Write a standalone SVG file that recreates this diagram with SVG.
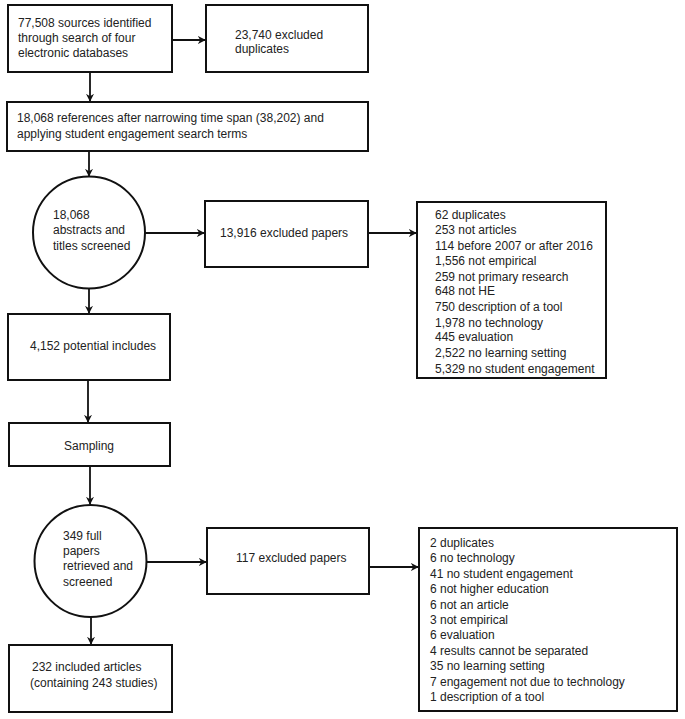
<svg xmlns="http://www.w3.org/2000/svg" width="685" height="719" viewBox="0 0 685 719">
<style>
.box{fill:#fff;stroke:#111;stroke-width:2}
.t{font-family:"Liberation Sans",Arial,sans-serif;font-size:12px;fill:#222}
.c{stroke:#111;stroke-width:1.8;fill:none;marker-end:url(#ah)}
</style>
<defs>
<marker id="ah" viewBox="0 0 10 10" refX="9" refY="5" markerWidth="8" markerHeight="8" orient="auto" markerUnits="userSpaceOnUse">
<path d="M0,0 L10,5 L0,10 L3,5 Z" fill="#111"/>
</marker>
</defs>
<rect width="685" height="719" fill="#fff"/>
<g id="connectors">
<line class="c" x1="172" y1="40" x2="205" y2="40"/>
<line class="c" x1="90" y1="72" x2="90" y2="101"/>
<line class="c" x1="89" y1="151" x2="89" y2="176"/>
<line class="c" x1="145" y1="233" x2="204" y2="233"/>
<line class="c" x1="368" y1="233" x2="416" y2="233"/>
<line class="c" x1="89" y1="288" x2="89" y2="313"/>
<line class="c" x1="88" y1="380" x2="88" y2="422"/>
<line class="c" x1="90" y1="466" x2="90" y2="504"/>
<line class="c" x1="146" y1="562" x2="206" y2="562"/>
<line class="c" x1="369" y1="567" x2="418" y2="567"/>
<line class="c" x1="91" y1="617" x2="91" y2="644"/>
</g>
<g id="n1"><rect class="box" x="8" y="5" width="164" height="67"/>
<text class="t" x="18" y="27">77,508 sources identified</text>
<text class="t" x="18" y="42">through search of four</text>
<text class="t" x="18" y="57">electronic databases</text></g>
<g id="n2"><rect class="box" x="206" y="5" width="162" height="67"/>
<text class="t" x="235" y="39">23,740 excluded</text>
<text class="t" x="235" y="53">duplicates</text></g>
<g id="n3"><rect class="box" x="7" y="102" width="361" height="49"/>
<text class="t" x="17" y="122">18,068 references after narrowing time span (38,202) and</text>
<text class="t" x="17" y="138">applying student engagement search terms</text></g>
<g id="n4"><circle class="box" cx="89" cy="232.5" r="56"/>
<text class="t" x="53" y="219">18,068</text>
<text class="t" x="53" y="234">abstracts and</text>
<text class="t" x="53" y="250">titles screened</text></g>
<g id="n5"><rect class="box" x="205" y="201" width="163" height="66"/>
<text class="t" x="220" y="237">13,916 excluded papers</text></g>
<g id="n6"><rect class="box" x="417" y="202" width="189" height="176"/>
<text class="t" x="435" y="219">62 duplicates</text>
<text class="t" x="435" y="234">253 not articles</text>
<text class="t" x="435" y="249.5">114 before 2007 or after 2016</text>
<text class="t" x="435" y="265">1,556 not empirical</text>
<text class="t" x="435" y="280.5">259 not primary research</text>
<text class="t" x="435" y="295">648 not HE</text>
<text class="t" x="435" y="310.5">750 description of a tool</text>
<text class="t" x="435" y="326.5">1,978 no technology</text>
<text class="t" x="435" y="341">445 evaluation</text>
<text class="t" x="435" y="357">2,522 no learning setting</text>
<text class="t" x="435" y="373">5,329 no student engagement</text></g>
<g id="n7"><rect class="box" x="8" y="314" width="162" height="66"/>
<text class="t" x="30" y="350">4,152 potential includes</text></g>
<g id="n8"><rect class="box" x="9" y="423" width="161" height="43"/>
<text class="t" x="89" y="450" text-anchor="middle">Sampling</text></g>
<g id="n9"><circle class="box" cx="90.5" cy="561" r="56"/>
<text class="t" x="63" y="540">349 full</text>
<text class="t" x="63" y="555">papers</text>
<text class="t" x="63" y="570">retrieved and</text>
<text class="t" x="63" y="586">screened</text></g>
<g id="n10"><rect class="box" x="207" y="528" width="162" height="66"/>
<text class="t" x="236" y="562">117 excluded papers</text></g>
<g id="n11"><rect class="box" x="419" y="528" width="258" height="183"/>
<text class="t" x="430" y="547">2 duplicates</text>
<text class="t" x="430" y="562">6 no technology</text>
<text class="t" x="430" y="577.5">41 no student engagement</text>
<text class="t" x="430" y="593">6 not higher education</text>
<text class="t" x="430" y="608.5">6 not an article</text>
<text class="t" x="430" y="623.5">3 not empirical</text>
<text class="t" x="430" y="639">6 evaluation</text>
<text class="t" x="430" y="654.5">4 results cannot be separated</text>
<text class="t" x="430" y="670">35 no learning setting</text>
<text class="t" x="430" y="685.5">7 engagement not due to technology</text>
<text class="t" x="430" y="701">1 description of a tool</text></g>
<g id="n12"><rect class="box" x="9" y="645" width="163" height="67"/>
<text class="t" x="32" y="671">232 included articles</text>
<text class="t" x="30" y="687">(containing 243 studies)</text></g>
</svg>
